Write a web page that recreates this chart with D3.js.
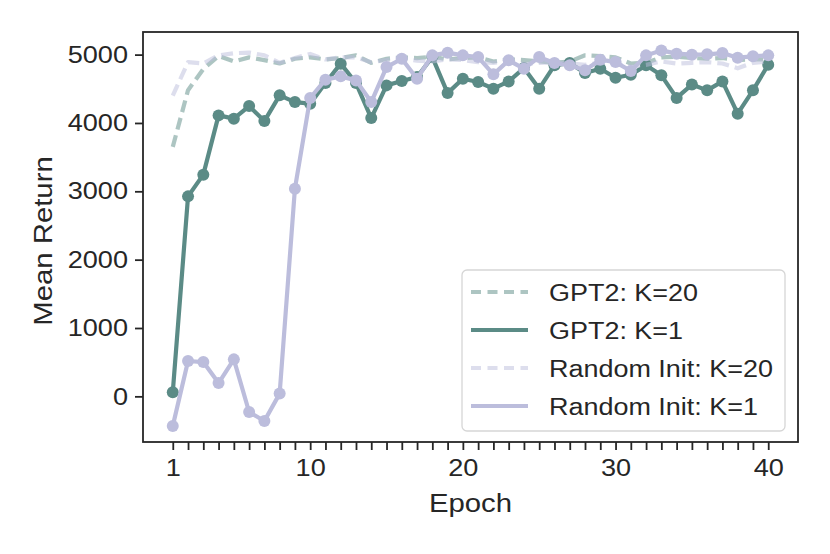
<!DOCTYPE html>
<html>
<head>
<meta charset="utf-8">
<script src="https://cdn.jsdelivr.net/npm/d3@7"></script>
<style>
  body { margin: 0; background: #fff; }
  text { font-family: "Liberation Sans", Arial, sans-serif; fill: #262626; }
  .axis path, .axis line { stroke: #262626; stroke-width: 1.8px; }
</style>
</head>
<body>
<svg id="chart" width="830" height="554"></svg>
<script>
// data
var epochs = d3.range(1, 41);
var gpt2K20 = [3650, 4480, 4790, 4980, 4900, 4960, 4920, 4870, 4940, 4960,
               4930, 4950, 4990, 4880, 4940, 4960, 4950, 4970, 4930, 4950,
               4960, 4900, 4930, 4920, 4900, 4880, 4900, 4990, 4980, 4960,
               4870, 4880, 4960, 4970, 4950, 4940, 4950, 4920, 4930, 4930];
var gpt2K1 = [60, 2926, 3244, 4111, 4063, 4247, 4028, 4404, 4306, 4282,
              4584, 4868, 4584, 4072, 4550, 4613, 4672, 4964, 4437, 4648,
              4599, 4502, 4608, 4803, 4502, 4843, 4877, 4730, 4794, 4662,
              4706, 4843, 4697, 4367, 4562, 4477, 4608, 4136, 4477, 4853];
var randK20 = [4400, 4890, 4870, 4990, 5020, 5030, 4990, 4880, 4950, 5010,
               4930, 4960, 4960, 4890, 4920, 4950, 4910, 4900, 4930, 4920,
               4890, 4880, 4900, 4860, 4880, 4890, 4870, 4850, 4880, 4870,
               4820, 4850, 4900, 4870, 4880, 4890, 4870, 4800, 4880, 4900];
var randK1 = [-434, 517, 502, 195, 541, -229, -361, 40, 3039, 4365,
              4633, 4682, 4623, 4306, 4818, 4940, 4648, 4989, 5029, 4989,
              4964, 4711, 4916, 4794, 4964, 4877, 4843, 4770, 4926, 4891,
              4760, 4989, 5062, 5014, 4999, 5004, 5023, 4955, 4975, 4989];
var xLabels = [1, 10, 20, 30, 40];
var yTicks = [0, 1000, 2000, 3000, 4000, 5000];

var series = [
  {name: "GPT2: K=20", values: gpt2K20, color: "#5b8b86", dashed: true},
  {name: "GPT2: K=1", values: gpt2K1, color: "#5b8b86", dashed: false},
  {name: "Random Init: K=20", values: randK20, color: "#bcbddc", dashed: true},
  {name: "Random Init: K=1", values: randK1, color: "#bcbddc", dashed: false}
];

var svg = d3.select("#chart");
var margin = {left: 143, right: 32, top: 32, bottom: 112};
var width = 830 - margin.left - margin.right;
var height = 554 - margin.top - margin.bottom;

var g = svg.append("g").attr("transform", "translate(" + margin.left + "," + margin.top + ")");

var x = d3.scaleLinear().domain([-0.95, 41.95]).range([0, width]);
var y = d3.scaleLinear().domain([-668, 5331]).range([height, 0]);

// axes
var xAxis = g.append("g")
  .attr("class", "axis")
  .attr("transform", "translate(0," + height + ")")
  .call(d3.axisBottom(x).tickValues(epochs).tickSize(8).tickPadding(8)
    .tickFormat(function(d){ return xLabels.indexOf(d) >= 0 ? d : ""; }));
xAxis.select(".domain").remove();
xAxis.selectAll("text")
  .style("font-size", "24px")
  .attr("transform", "scale(1.13,1)")
  .attr("y", 16)
  .attr("dy", "0.75em");

var yAxis = g.append("g")
  .attr("class", "axis")
  .call(d3.axisLeft(y).tickValues(yTicks).tickSize(8).tickPadding(7).tickFormat(d3.format("d")));
yAxis.select(".domain").remove();
yAxis.selectAll("text")
  .style("font-size", "24px")
  .attr("transform", "scale(1.13,1)")
  .attr("x", -15 / 1.13);

// frame
g.append("rect")
  .attr("width", width).attr("height", height)
  .attr("fill", "none").attr("stroke", "#262626").attr("stroke-width", 1.8);

// axis labels
svg.append("text")
  .attr("transform", "translate(" + (margin.left + width / 2) + ",512) scale(1.15,1)")
  .attr("text-anchor", "middle")
  .style("font-size", "25.5px")
  .text("Epoch");

svg.append("text")
  .attr("transform", "translate(52," + (margin.top + height / 2 + 4) + ") rotate(-90) scale(1.15,1)")
  .attr("text-anchor", "middle")
  .style("font-size", "25.5px")
  .text("Mean Return");

// lines
var line = d3.line()
  .x(function(d, i){ return x(epochs[i]); })
  .y(function(d){ return y(d); });

var plot = g.append("g");

series.forEach(function(s){
  plot.append("path")
    .datum(s.values)
    .attr("d", line)
    .attr("fill", "none")
    .attr("stroke", s.color)
    .attr("stroke-width", 4.2)
    .attr("stroke-linejoin", "round")
    .attr("stroke-opacity", s.dashed ? 0.5 : 1)
    .attr("stroke-dasharray", s.dashed ? "12,6" : null);
  if (!s.dashed) {
    plot.append("g").selectAll("circle")
      .data(s.values)
      .join("circle")
      .attr("cx", function(d, i){ return x(epochs[i]); })
      .attr("cy", function(d){ return y(d); })
      .attr("r", 6)
      .attr("fill", s.color);
  }
});

// legend
var legend = g.append("g").attr("transform", "translate(319,238)");
legend.append("rect")
  .attr("width", 323).attr("height", 161).attr("rx", 5)
  .attr("fill", "#fff").attr("fill-opacity", 0.8)
  .attr("stroke", "#d6d6d6").attr("stroke-width", 1.3);

var items = legend.selectAll(".legend").data(series).join("g")
  .attr("class", "legend")
  .attr("transform", function(d, i){ return "translate(0," + (22 + i * 38) + ")"; });

items.append("line")
  .attr("x1", 9).attr("x2", 66)
  .attr("stroke", function(d){ return d.color; })
  .attr("stroke-width", 4.2)
  .attr("stroke-opacity", function(d){ return d.dashed ? 0.5 : 1; })
  .attr("stroke-dasharray", function(d){ return d.dashed ? "10,6.5" : null; });

items.append("text")
  .attr("transform", "translate(87,0) scale(1.1,1)")
  .attr("dy", "0.35em")
  .style("font-size", "24.5px")
  .text(function(d){ return d.name; });
</script>
</body>
</html>
